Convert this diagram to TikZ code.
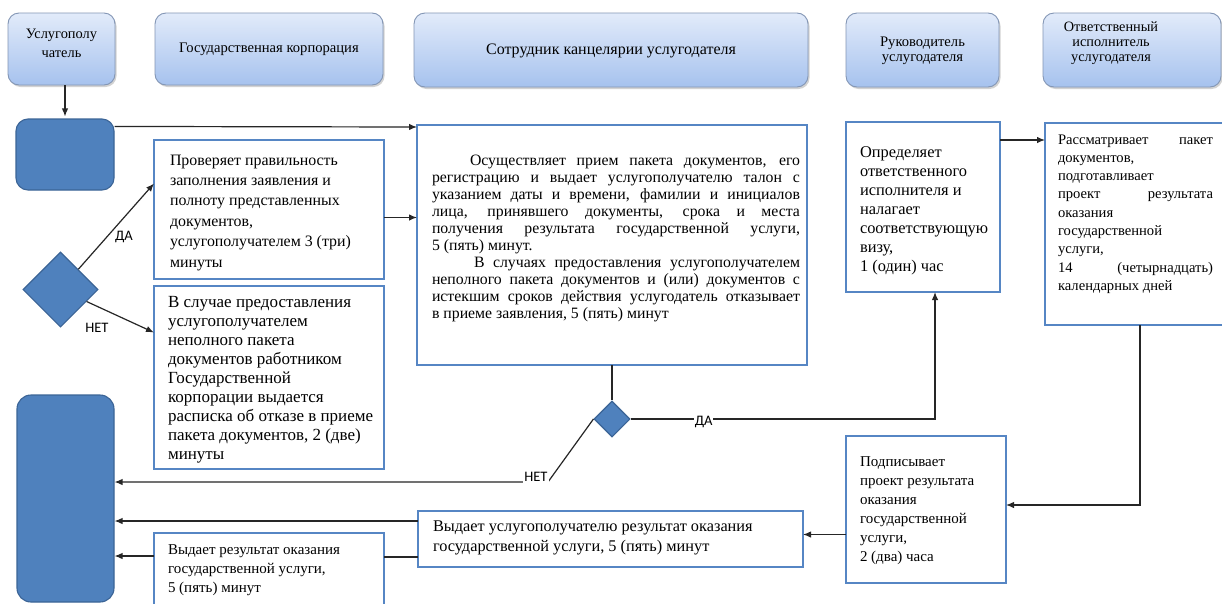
\documentclass[tikz,border=0pt]{standalone}
\usepackage{fontspec}
\setmainfont{Liberation Serif}
\newfontfamily\lblfont{Carlito}
\usetikzlibrary{arrows.meta,shapes.geometric,shadows,calc}
\definecolor{bblue}{HTML}{5686C4}
\definecolor{sfill}{HTML}{4F81BD}
\definecolor{sdraw}{HTML}{3B6496}
\definecolor{htop}{HTML}{E2EBFA}
\definecolor{hbot}{HTML}{A6C2EE}
\definecolor{hdraw}{HTML}{8396B5}
\newcommand\tb[6]{\hspace*{#3pt}\parbox[c][#2pt][t]{\dimexpr #1pt-#3pt-#4pt\relax}{\rule{0pt}{#5pt}#6}\hspace*{#4pt}}
\newcommand\hb[4]{\parbox[c][#2pt][t]{#1pt}{\centering\rule{0pt}{#3pt}#4}}
\newcommand\myl[1]{\mbox{#1}\par}
\newcommand\myj[1]{\makebox[\linewidth][s]{#1}\par}
\begin{document}
\begin{tikzpicture}[x=1pt,y=-1pt,
  hdr/.style={draw=hdraw, line width=0.9pt, rounded corners=11pt, top color=htop, bottom color=hbot,
    drop shadow={shadow xshift=1.5pt, shadow yshift=-2pt, opacity=0.35}, inner sep=0pt, outer sep=0pt,
    anchor=north west},
  tbox/.style={draw=bblue, line width=2.9pt, fill=white, anchor=north west, inner sep=0pt, outer sep=0pt},
  sblue/.style={draw=sdraw, fill=sfill, line width=1.1pt, inner sep=0pt},
  arr/.style={-{Latex[length=8pt,width=6.5pt]}, line width=1.2pt, draw=black!85},
  ln/.style={line width=1.2pt, draw=black!85},
  lbl/.style={font=\lblfont\fontsize{14.5}{16}\selectfont, inner sep=1pt}]
\fill[white] (0,0) rectangle (1222,603);
\useasboundingbox (0,0) rectangle (1222,603);

% headers
\node[hdr, font=\fontsize{14.4}{19}\selectfont] (h1) at (8,13) {\hb{107}{72}{25}{Услугополу\\чатель}};
\node[hdr, font=\fontsize{14.6}{16}\selectfont] (h2) at (155,13) {\hb{228}{72}{39}{Государственная корпорация}};
\node[hdr, font=\fontsize{16}{18}\selectfont] (h3) at (414,13) {\hb{394}{74}{41.5}{Сотрудник канцелярии услугодателя}};
\node[hdr, font=\fontsize{14.6}{15}\selectfont] (h4) at (846,13) {\hb{153}{74}{33}{Руководитель\\услугодателя}};
\node[hdr, font=\fontsize{14.3}{15}\selectfont] (h5) at (1043,13) {\hb{136}{74}{18}{Ответственный\\исполнитель\\услугодателя}\hspace*{42pt}};

% blue shapes
\node[sblue, rounded corners=12pt, minimum width=98pt, minimum height=71pt] (b1) at (65,154.5) {};
\node[sblue, rounded corners=14pt, minimum width=97pt, minimum height=207pt] (b2) at (65.5,498.5) {};
\node[sblue, diamond, aspect=1, minimum width=75pt, minimum height=75pt] (d1) at (60.5,289.5) {};
\node[sblue, diamond, aspect=1, minimum width=36pt, minimum height=36pt] (d2) at (612,419) {};

% text boxes
\node[tbox, font=\fontsize{15.9}{20.4}\selectfont] (g1) at (154,140) {\tb{230}{139}{16}{6}{25}{%
\myl{Проверяет правильность}\myl{заполнения заявления и}\myl{полноту представленных}\myl{документов,}\myl{услугополучателем 3 (три)}\myl{минуты}}};

\node[tbox, font=\fontsize{17}{19}\selectfont] (g2) at (154,286) {\tb{230}{183}{14}{4}{21}{%
\myl{В случае предоставления}\myl{услугополучателем}\myl{неполного пакета}\myl{документов работником}\myl{Государственной}\myl{корпорации выдается}\myl{расписка об отказе в приеме}\myl{пакета документов, 2 (две)}\myl{минуты}}};

\node[tbox, font=\fontsize{15}{19}\selectfont] (g3) at (154,533) {\tb{230}{80}{14}{8}{21}{%
\myl{Выдает результат оказания}\myl{государственной услуги,}\myl{5 (пять) минут}}};

\node[tbox, font=\fontsize{15.8}{17.1}\selectfont] (c1) at (417,125) {\tb{390}{240}{15}{7}{40}{%
\myj{\hspace*{38pt}Осуществляет прием пакета документов, его}%
\myj{регистрацию и выдает услугополучателю талон с}%
\myj{указанием даты и времени, фамилии и инициалов}%
\myj{лица, принявшего документы, срока и места}%
\myj{получения результата государственной услуги,}%
\myl{5 (пять) минут.}%
\myj{\hspace*{42pt}В случаях предоставления услугополучателем}%
\myj{неполного пакета документов и (или) документов с}%
\myj{истекшим сроков действия услугодатель отказывает}%
\myl{в приеме заявления, 5 (пять) минут}}};

\node[tbox, font=\fontsize{16.3}{20}\selectfont] (c2) at (418,511) {\tb{385}{56}{15}{6}{20}{%
\myl{Выдает услугополучателю результат оказания}\myl{государственной услуги, 5 (пять) минут}}};

\node[tbox, font=\fontsize{16.4}{19}\selectfont] (r1) at (846,122) {\tb{154}{170}{14}{2}{35}{%
\myl{Определяет}\myl{ответственного}\myl{исполнителя и}\myl{налагает}\myl{соответствующую}\myl{визу,}\myl{1 (один) час}}};

\node[tbox, font=\fontsize{14.6}{18.3}\selectfont] (r2) at (1045,123) {\tb{186}{202}{13}{18}{21}{%
\myj{Рассматривает пакет}\myl{документов,}\myl{подготавливает}\myj{проект результата}\myl{оказания}\myl{государственной}\myl{услуги,}\myj{14 (четырнадцать)}\myl{календарных дней}}};

\node[tbox, font=\fontsize{15}{19}\selectfont] (r3) at (846,436) {\tb{160}{147}{14}{4}{30}{%
\myl{Подписывает}\myl{проект результата}\myl{оказания}\myl{государственной}\myl{услуги,}\myl{2 (два) часа}}};

% connectors
\draw[arr] (b1.north |- h1.south) -- ([yshift=2pt]b1.north);
\draw[arr] ([yshift=-8pt]b1.north east) -- ([yshift=-2pt]c1.north west);
\draw[arr] (d1) -- ([yshift=26pt]g1.west);
\draw[arr] (d1) -- ([yshift=45pt]g2.west);
\node[lbl] (da1) at (124,237) {ДА};
\node[lbl] (net1) at (97,328) {НЕТ};
\draw[arr] ([yshift=-8pt]g1.east) -- ([yshift=-8pt]g1.east -| c1.west);
\draw[ln] (c1.south) -- (d2.north);
\coordinate (r1in) at ([xshift=12pt]r1.south);
\draw[arr] (d2.east) -- node[lbl, pos=0.24, fill=white, yshift=-3pt] (da2) {ДА} (d2.east -| r1in) -- (r1in);
\coordinate (netc) at (548,482);
\draw[arr] (d2.west) -- (netc) -- (netc -| b2.east);
\node[lbl, fill=white] (net2) at (536,477) {НЕТ};
\coordinate (r2out) at ([xshift=2pt]r2.south);
\draw[arr] (r2out) -- (r2out |- 0,505) -- ([yshift=4.5pt]r3.east);
\draw[arr] ([yshift=-18pt]r1.north east) -- ([yshift=-18pt]r1.north east -| r2.west);
\draw[arr] ([yshift=-25pt]r3.west) -- ([yshift=-25pt]r3.west -| c2.east);
\draw[arr] ([yshift=-10pt]c2.north west) -- ([yshift=-10pt]c2.north west -| b2.east);
\draw[ln] ([yshift=-46pt]c2.north west) -- ([yshift=-46pt]c2.north west -| g3.east);
\draw[arr] ([yshift=-23pt]g3.north west) -- ([yshift=-23pt]g3.north west -| b2.east);
\end{tikzpicture}
\end{document}
